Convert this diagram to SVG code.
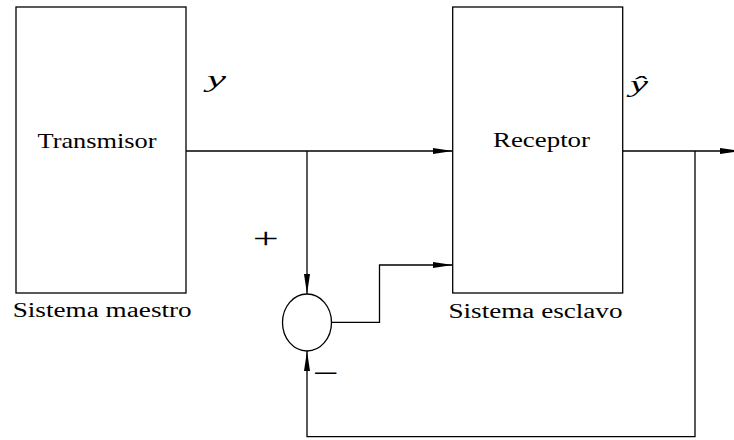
<svg xmlns="http://www.w3.org/2000/svg" width="734" height="440" viewBox="0 0 734 440">
<defs>
<style>
.box{fill:#fff;stroke:#000;stroke-width:1.3}
.ln{fill:none;stroke:#000;stroke-width:1.3;marker-end:url(#ar)}
text{fill:#000}
</style>
<marker id="ar" markerUnits="userSpaceOnUse" markerWidth="20" markerHeight="8" refX="20" refY="3.5" orient="auto">
<path d="M0,0.5 L20,3.5 L0,6.5 z" fill="#000"/>
</marker>
</defs>
<rect width="734" height="440" fill="#fff"/>
<g id="connectors">
<path class="ln" d="M186,151 H452.7"/>
<path class="ln" d="M307,151 V294"/>
<path class="ln" d="M331.5,322.3 H379.5 V265 H452.7"/>
<path class="ln" d="M622.7,151 H740"/>
<path class="ln" d="M695,151 V436.7 H307 V351"/>
</g>
<g id="transmisor" font-family="Liberation Serif, DejaVu Serif, serif">
<rect class="box" x="16" y="7" width="170" height="286"/>
<text x="97" y="147.7" font-size="21" text-anchor="middle" textLength="119" lengthAdjust="spacingAndGlyphs">Transmisor</text>
<text x="102.2" y="317.3" font-size="20" text-anchor="middle" textLength="179" lengthAdjust="spacingAndGlyphs">Sistema maestro</text>
</g>
<g id="receptor" font-family="Liberation Serif, DejaVu Serif, serif">
<rect class="box" x="452.7" y="7" width="170" height="286"/>
<text x="541.5" y="146.7" font-size="21" text-anchor="middle" textLength="97" lengthAdjust="spacingAndGlyphs">Receptor</text>
<text x="535.5" y="318" font-size="20" text-anchor="middle" textLength="174" lengthAdjust="spacingAndGlyphs">Sistema esclavo</text>
</g>
<g id="sumador" font-family="Liberation Serif, DejaVu Serif, serif">
<ellipse class="box" cx="307" cy="322.5" rx="24.5" ry="28.5"/>
<text x="265.7" y="247.6" font-size="30" text-anchor="middle" textLength="26" lengthAdjust="spacingAndGlyphs">+</text>
<text x="326" y="383" font-size="30" text-anchor="middle" textLength="26" lengthAdjust="spacingAndGlyphs">−</text>
</g>
<g id="labels" font-family="Liberation Serif, DejaVu Serif, serif" font-style="italic">
<text x="207" y="87" font-size="24" textLength="19" lengthAdjust="spacingAndGlyphs">y</text>
<text x="630" y="92" font-size="24" textLength="18" lengthAdjust="spacingAndGlyphs">ŷ</text>
</g>
</svg>
